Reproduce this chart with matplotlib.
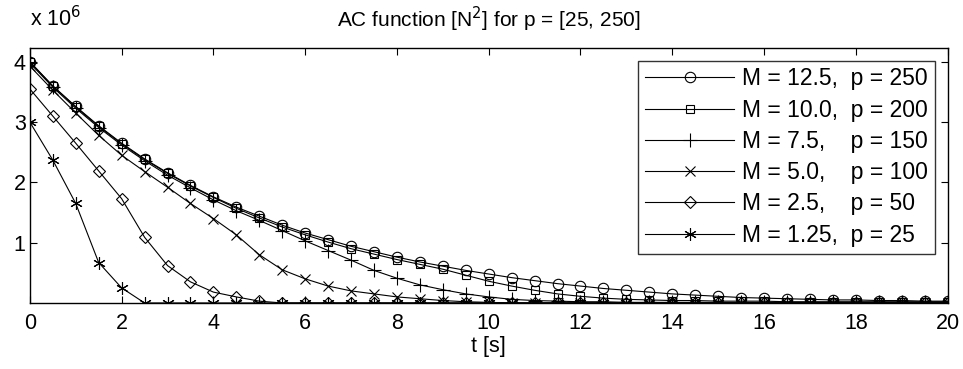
import numpy as np
import matplotlib
matplotlib.use('Agg')
import matplotlib.pyplot as plt

plt.rcParams['font.family'] = ['Liberation Sans', 'DejaVu Sans']
font_size = 15.5

# time axis [s], one sample every 0.5 s
t = np.arange(0, 20.5, 0.5)

# AC values in units of 1e6
ac_250 = [4.00, 3.60, 3.26, 2.94, 2.65, 2.39, 2.16, 1.95, 1.76, 1.59, 1.44, 1.29, 1.16, 1.05,
          0.94, 0.85, 0.76, 0.68, 0.61, 0.54, 0.48, 0.42, 0.37, 0.32, 0.28, 0.24, 0.21, 0.18,
          0.15, 0.13, 0.11, 0.09, 0.08, 0.07, 0.06, 0.05, 0.05, 0.04, 0.04, 0.03, 0.03]
ac_200 = [4.00, 3.60, 3.25, 2.93, 2.64, 2.38, 2.15, 1.94, 1.75, 1.57, 1.41, 1.26, 1.13, 1.01,
          0.90, 0.81, 0.72, 0.64, 0.56, 0.46, 0.36, 0.28, 0.21, 0.15, 0.11, 0.08, 0.06, 0.05,
          0.04, 0.04, 0.03, 0.03, 0.03, 0.02, 0.02, 0.02, 0.02, 0.02, 0.02, 0.02, 0.02]
ac_150 = [3.98, 3.58, 3.23, 2.91, 2.62, 2.36, 2.12, 1.91, 1.71, 1.53, 1.37, 1.20, 1.03, 0.87,
          0.71, 0.54, 0.41, 0.30, 0.22, 0.15, 0.10, 0.06, 0.04, 0.03, 0.02, 0.02, 0.01, 0.01,
          0.01, 0.01, 0.01, 0.01, 0.01, 0.01, 0.01, 0.01, 0.01, 0.01, 0.01, 0.01, 0.01]
ac_100 = [3.93, 3.53, 3.15, 2.78, 2.45, 2.18, 1.92, 1.65, 1.40, 1.13, 0.80, 0.55, 0.40, 0.28,
          0.20, 0.15, 0.10, 0.07, 0.04, 0.02, 0.01, 0.0, 0.0, 0.0, 0.0, 0.0, 0.0, 0.0,
          0.0, 0.0, 0.0, 0.0, 0.0, 0.0, 0.0, 0.0, 0.0, 0.0, 0.0, 0.0, 0.0]
ac_50 = [3.55, 3.10, 2.65, 2.19, 1.73, 1.09, 0.62, 0.35, 0.18, 0.10, 0.03, 0.0, 0.0, 0.0,
         0.0, 0.0, 0.0, 0.0, 0.0, 0.0, 0.0, 0.0, 0.0, 0.0, 0.0, 0.0, 0.0, 0.0,
         0.0, 0.0, 0.0, 0.0, 0.0, 0.0, 0.0, 0.0, 0.0, 0.0, 0.0, 0.0, 0.0]
ac_25 = [3.00, 2.37, 1.65, 0.67, 0.25, 0.0, 0.0, 0.0, 0.0, 0.0, 0.0, 0.0, 0.0, 0.0,
         0.0, 0.0, 0.0, 0.0, 0.0, 0.0, 0.0, 0.0, 0.0, 0.0, 0.0, 0.0, 0.0, 0.0,
         0.0, 0.0, 0.0, 0.0, 0.0, 0.0, 0.0, 0.0, 0.0, 0.0, 0.0, 0.0, 0.0]

labels = ['M = 12.5,  p = 250',
          'M = 10.0,  p = 200',
          'M = 7.5,    p = 150',
          'M = 5.0,    p = 100',
          'M = 2.5,    p = 50',
          'M = 1.25,  p = 25']
series = [ac_250, ac_200, ac_150, ac_100, ac_50, ac_25]
markers = ['o', 's', '+', 'x', 'D', (6, 2, 0)]
sizes = [7.5, 6, 10, 7, 6.5, 9]

fig = plt.figure(figsize=(9.63, 3.69), dpi=100)
ax = fig.add_axes([0.031, 0.179, 0.953, 0.691])

for vals, mk, ms, lab in zip(series, markers, sizes, labels):
    ax.plot(t, np.array(vals) * 1e6, color='black', linewidth=0.8, marker=mk,
            markersize=ms, markerfacecolor='none', markeredgecolor='black',
            markeredgewidth=0.8, label=lab)

ax.set_xlim(0, 20)
ax.set_ylim(0, 4.23e6)
ax.set_xticks(np.arange(0, 21, 2))
ax.set_yticks([1e6, 2e6, 3e6, 4e6])
ax.set_yticklabels(['1', '2', '3', '4'])
ax.tick_params(direction='in', top=True, right=True, length=5, labelsize=font_size, pad=7)
ax.tick_params(axis='y', pad=3)
for s in ax.spines.values():
    s.set_linewidth(1.0)

ax.set_xlabel('t [s]', fontsize=font_size, labelpad=2)
ax.set_title('AC function [N$^2$] for p = [25, 250]', fontsize=15, pad=15)
ax.text(0.0, 1.065, 'x 10$^6$', transform=ax.transAxes, fontsize=font_size,
        ha='left', va='bottom')

leg = ax.legend(loc='upper right', fontsize=16.5, frameon=True, fancybox=False,
                edgecolor='black', handlelength=3.9, labelspacing=0.36,
                borderaxespad=0.55, borderpad=0.3, handletextpad=0.35)
leg.get_frame().set_linewidth(1.0)

plt.savefig('out.png', dpi=100)
